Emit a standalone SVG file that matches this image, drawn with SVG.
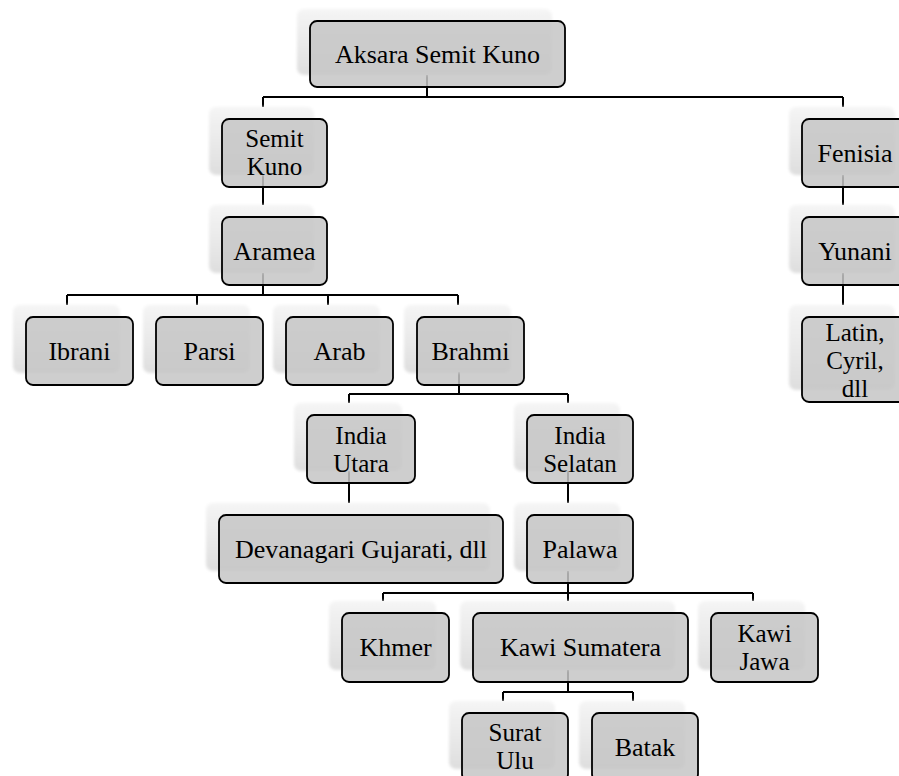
<svg xmlns="http://www.w3.org/2000/svg" width="899" height="776" viewBox="0 0 899 776">
<defs>
<linearGradient id="sg" x1="0" y1="0" x2="0" y2="1">
<stop offset="0" stop-color="#f5f5f5"/>
<stop offset="1" stop-color="#dedede"/>
</linearGradient>
<filter id="blur" x="-20%" y="-20%" width="140%" height="140%">
<feGaussianBlur stdDeviation="1.6"/>
</filter>
</defs>
<style>
.sh{fill:url(#sg);filter:url(#blur);}
.bx{fill:#c6c6c6;fill-opacity:0.85;stroke:#000;stroke-width:1.8;}
.t{font-family:"Liberation Serif","Times New Roman",serif;font-size:26px;fill:#000;text-anchor:middle;}
.m{font-size:25px;}
.c{stroke:#000;stroke-width:2;fill:none;}
</style>
<rect width="899" height="776" fill="#fff"/>
<g id="connectors">
<path class="c" d="M427 75V97M263 97H843M263 97V107M843 97V107"/>
<path class="c" d="M263 175V205"/>
<path class="c" d="M263 273V295M67 295H458M67 295V305M197 295V305M328 295V305M458 295V305"/>
<path class="c" d="M843 175V205M843 273V305"/>
<path class="c" d="M459 372V394M349 394H568M349 394V403M568 394V403"/>
<path class="c" d="M349 471V503M568 471V503"/>
<path class="c" d="M568 571V593M383 593H753M383 593V601M568 593V601M753 593V601"/>
<path class="c" d="M568 670V692M503 692H633M503 692V701M633 692V701"/>
</g>
<g id="n-aksara"><rect class="sh" x="297" y="9" width="255" height="66" rx="7"/><rect class="bx" x="310" y="21" width="255" height="66" rx="7"/><text class="t" x="437.5" y="63">Aksara Semit Kuno</text></g>
<g id="n-semit"><rect class="sh" x="209" y="107" width="105" height="68" rx="7"/><rect class="bx" x="222" y="119" width="105" height="68" rx="7"/><text class="t m" x="274.5" y="147">Semit</text><text class="t m" x="274.5" y="175">Kuno</text></g>
<g id="n-aramea"><rect class="sh" x="209" y="205" width="105" height="68" rx="7"/><rect class="bx" x="222" y="217" width="105" height="68" rx="7"/><text class="t" x="274.5" y="260">Aramea</text></g>
<g id="n-fenisia"><rect class="sh" x="789" y="107" width="106" height="68" rx="7"/><rect class="bx" x="802" y="119" width="106" height="68" rx="7"/><text class="t" x="855" y="162">Fenisia</text></g>
<g id="n-yunani"><rect class="sh" x="789" y="205" width="106" height="68" rx="7"/><rect class="bx" x="802" y="217" width="106" height="68" rx="7"/><text class="t" x="855" y="260">Yunani</text></g>
<g id="n-latin"><rect class="sh" x="789" y="305" width="106" height="85" rx="7"/><rect class="bx" x="802" y="317" width="106" height="85" rx="7"/><text class="t m" x="855" y="341">Latin,</text><text class="t m" x="855" y="369">Cyril,</text><text class="t m" x="855" y="397">dll</text></g>
<g id="n-ibrani"><rect class="sh" x="13" y="305" width="107" height="68" rx="7"/><rect class="bx" x="26" y="317" width="107" height="68" rx="7"/><text class="t" x="79.5" y="360">Ibrani</text></g>
<g id="n-parsi"><rect class="sh" x="143" y="305" width="107" height="68" rx="7"/><rect class="bx" x="156" y="317" width="107" height="68" rx="7"/><text class="t" x="209.5" y="360">Parsi</text></g>
<g id="n-arab"><rect class="sh" x="273" y="305" width="107" height="68" rx="7"/><rect class="bx" x="286" y="317" width="107" height="68" rx="7"/><text class="t" x="339.5" y="360">Arab</text></g>
<g id="n-brahmi"><rect class="sh" x="404" y="305" width="107" height="68" rx="7"/><rect class="bx" x="417" y="317" width="107" height="68" rx="7"/><text class="t" x="470.5" y="360">Brahmi</text></g>
<g id="n-indiautara"><rect class="sh" x="294" y="403" width="108" height="68" rx="7"/><rect class="bx" x="307" y="415" width="108" height="68" rx="7"/><text class="t m" x="361" y="444">India</text><text class="t m" x="361" y="472">Utara</text></g>
<g id="n-indiaselatan"><rect class="sh" x="514" y="403" width="106" height="68" rx="7"/><rect class="bx" x="527" y="415" width="106" height="68" rx="7"/><text class="t m" x="580" y="444">India</text><text class="t m" x="580" y="472">Selatan</text></g>
<g id="n-devanagari"><rect class="sh" x="206" y="503" width="284" height="68" rx="7"/><rect class="bx" x="219" y="515" width="284" height="68" rx="7"/><text class="t" x="361" y="558">Devanagari Gujarati, dll</text></g>
<g id="n-palawa"><rect class="sh" x="514" y="503" width="106" height="68" rx="7"/><rect class="bx" x="527" y="515" width="106" height="68" rx="7"/><text class="t" x="580" y="558">Palawa</text></g>
<g id="n-khmer"><rect class="sh" x="329" y="601" width="107" height="69" rx="7"/><rect class="bx" x="342" y="613" width="107" height="69" rx="7"/><text class="t" x="395.5" y="656">Khmer</text></g>
<g id="n-kawisumatera"><rect class="sh" x="460" y="601" width="215" height="69" rx="7"/><rect class="bx" x="473" y="613" width="215" height="69" rx="7"/><text class="t" x="580.5" y="656">Kawi Sumatera</text></g>
<g id="n-kawijawa"><rect class="sh" x="698" y="601" width="107" height="69" rx="7"/><rect class="bx" x="711" y="613" width="107" height="69" rx="7"/><text class="t m" x="764.5" y="642">Kawi</text><text class="t m" x="764.5" y="670">Jawa</text></g>
<g id="n-suratulu"><rect class="sh" x="449" y="701" width="106" height="68" rx="7"/><rect class="bx" x="462" y="713" width="106" height="68" rx="7"/><text class="t m" x="515" y="741">Surat</text><text class="t m" x="515" y="769">Ulu</text></g>
<g id="n-batak"><rect class="sh" x="579" y="701" width="106" height="68" rx="7"/><rect class="bx" x="592" y="713" width="106" height="68" rx="7"/><text class="t" x="645" y="756">Batak</text></g>
</svg>
